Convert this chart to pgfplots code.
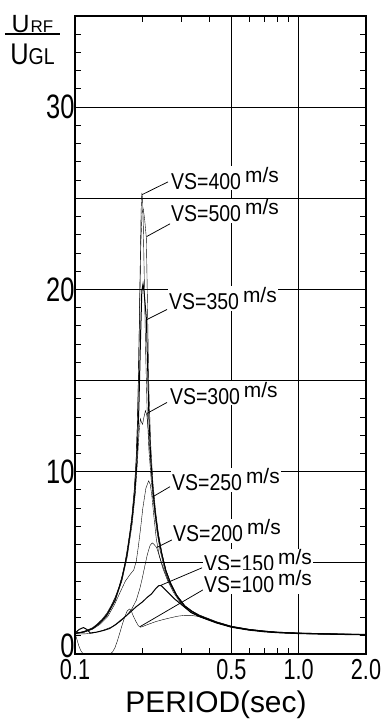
\documentclass[border=0pt]{standalone}
\usepackage{pgfplots}
\pgfplotsset{compat=1.18}
\usepackage{fontspec}
\setmainfont{Liberation Sans}
\newfontfamily\tickfont{Liberation Sans}[FakeStretch=0.75]
\newfontfamily\labfont{Liberation Sans}[FakeStretch=0.85]
\newcommand{\vs}[1]{{\labfont\fontsize{23}{23}\selectfont VS=#1}\hspace{4bp}\raisebox{7bp}{\fontsize{21}{21}\selectfont m/s}}
\begin{document}
\begin{tikzpicture}
\path[use as bounding box] (-75bp,-69bp) rectangle (312bp,654bp);
\begin{axis}[
 at={(0,0)}, anchor=south west,
 scale only axis, width=291bp, height=638bp,
 xmode=log, xmin=0.1, xmax=2, ymin=0, ymax=35,
 xtick={0.1,0.5,1,2}, xticklabels={0.1,0.5,1.0,2.0},
 minor xtick={0.2,0.3,0.4,0.6,0.7,0.8,0.9},
 ytick={0,10,20,30}, yticklabels={\raisebox{16bp}{0},10,20,30},
 minor ytick={1,...,34},
 extra y ticks={5,15,25}, extra y tick labels={},
 extra y tick style={grid=major},
 grid=major,
 major grid style={black, line width=0.8bp},
 axis line style={line width=1.3bp},
 tick style={black, line width=0.9bp},
 major tick length=7bp, minor tick length=6bp,
 x tick label style={font=\tickfont\fontsize{29}{29}\selectfont, yshift=-2bp},
 y tick label style={font=\tickfont\fontsize{34}{34}\selectfont, xshift=3bp},
 clip=false,
 cycle list={{black, solid, line width=1bp, no markers}},
]
% VS=500
\addplot coordinates {(0.100,1.15)(0.107,1.2)(0.113,1.3)(0.120,1.45)(0.125,1.62)(0.132,1.9)(0.139,2.25)(0.145,2.65)(0.151,3.1)(0.157,3.65)(0.162,4.25)(0.167,4.95)(0.171,5.7)(0.176,6.7)(0.180,7.7)(0.184,9.0)(0.188,10.8)(0.191,13.5)(0.194,18)(0.197,22.5)(0.1995,24.2)(0.202,24.4)(0.205,23.8)(0.2085,22.8)(0.211,19)(0.214,14.5)(0.218,11.5)(0.223,9.4)(0.229,7.9)(0.236,6.6)(0.245,5.5)(0.255,4.6)(0.268,3.9)(0.285,3.25)(0.310,2.65)(0.335,2.35)(0.36,2.14)(0.40,1.92)(0.43,1.77)(0.50,1.53)(0.60,1.36)(0.70,1.27)(0.80,1.21)(1.00,1.16)(1.30,1.12)(1.60,1.1)(2.00,1.08)};
% VS=400
\addplot coordinates {(0.100,1.15)(0.107,1.2)(0.113,1.28)(0.120,1.42)(0.125,1.58)(0.132,1.85)(0.139,2.2)(0.145,2.6)(0.151,3.05)(0.157,3.6)(0.162,4.2)(0.167,4.9)(0.171,5.6)(0.176,6.6)(0.180,7.6)(0.184,8.9)(0.187,10.2)(0.190,12.5)(0.193,16.5)(0.1955,21)(0.1975,24.3)(0.199,25.3)(0.2005,25.0)(0.202,23.5)(0.2045,20)(0.207,16.5)(0.210,13.5)(0.214,11.2)(0.219,9.6)(0.225,8.2)(0.232,6.8)(0.240,5.7)(0.250,4.8)(0.262,4.0)(0.275,3.5)(0.300,2.8)(0.330,2.36)(0.36,2.12)(0.40,1.9)(0.43,1.75)(0.50,1.52)(0.60,1.35)(0.70,1.26)(0.80,1.2)(1.00,1.15)(1.30,1.11)(1.60,1.09)(2.00,1.07)};
% VS=350
\addplot coordinates {(0.100,1.13)(0.110,1.22)(0.120,1.4)(0.130,1.75)(0.139,2.15)(0.151,2.95)(0.162,4.1)(0.171,5.45)(0.180,7.4)(0.185,8.8)(0.189,10.5)(0.193,13.5)(0.1965,17.5)(0.199,19.9)(0.2015,20.3)(0.2035,19.9)(0.2055,19.3)(0.2085,18.4)(0.211,16)(0.214,13)(0.218,10.8)(0.223,9.0)(0.229,7.6)(0.236,6.4)(0.245,5.4)(0.255,4.55)(0.268,3.85)(0.285,3.2)(0.310,2.62)(0.335,2.32)(0.36,2.1)(0.40,1.88)(0.43,1.74)(0.50,1.5)(0.60,1.34)(0.70,1.25)(0.80,1.19)(1.00,1.14)(1.30,1.11)(1.60,1.09)(2.00,1.07)};
% VS=300
\addplot coordinates {(0.100,1.12)(0.110,1.2)(0.120,1.38)(0.130,1.7)(0.139,2.1)(0.151,2.9)(0.162,4.0)(0.171,5.3)(0.180,7.1)(0.186,8.8)(0.190,10.5)(0.1935,12.2)(0.196,12.9)(0.1985,12.7)(0.2005,12.6)(0.203,12.95)(0.2065,13.35)(0.2095,13.1)(0.213,12.2)(0.217,10.8)(0.222,9.3)(0.228,7.9)(0.235,6.7)(0.244,5.6)(0.255,4.6)(0.268,3.85)(0.285,3.2)(0.310,2.6)(0.335,2.3)(0.36,2.08)(0.40,1.86)(0.43,1.72)(0.50,1.49)(0.60,1.33)(0.70,1.24)(0.80,1.18)(1.00,1.13)(1.30,1.1)(1.60,1.08)(2.00,1.06)};
% VS=250
\addplot coordinates {(0.100,1.12)(0.110,1.2)(0.120,1.36)(0.130,1.65)(0.140,2.05)(0.150,2.7)(0.160,3.45)(0.168,4.0)(0.176,4.35)(0.183,4.6)(0.188,5.1)(0.192,5.9)(0.1965,6.9)(0.201,8.0)(0.2075,9.1)(0.2135,9.5)(0.217,9.3)(0.2205,8.7)(0.225,7.6)(0.231,6.3)(0.238,5.4)(0.247,4.7)(0.260,4.0)(0.275,3.4)(0.300,2.7)(0.330,2.28)(0.36,2.06)(0.40,1.85)(0.43,1.71)(0.50,1.48)(0.60,1.32)(0.70,1.23)(0.80,1.18)(1.00,1.13)(1.30,1.1)(1.60,1.08)(2.00,1.06)};
% VS=200
\addplot coordinates {(0.100,1.1)(0.110,1.1)(0.120,1.15)(0.130,1.25)(0.140,1.4)(0.150,1.55)(0.160,1.8)(0.170,2.1)(0.180,2.5)(0.188,2.95)(0.195,3.6)(0.1995,4.1)(0.205,4.8)(0.211,5.5)(0.2165,5.95)(0.2215,6.1)(0.226,6.0)(0.2315,5.85)(0.238,5.4)(0.247,4.8)(0.260,4.1)(0.275,3.5)(0.300,2.75)(0.330,2.28)(0.36,2.05)(0.40,1.84)(0.43,1.7)(0.50,1.47)(0.60,1.31)(0.70,1.23)(0.80,1.17)(1.00,1.12)(1.30,1.09)(1.60,1.07)(2.00,1.06)};
% VS=150
\addplot coordinates {(0.100,1.15)(0.1045,1.35)(0.109,1.45)(0.113,1.35)(0.117,1.15)(0.125,1.2)(0.135,1.3)(0.143,1.4)(0.152,1.62)(0.164,1.95)(0.175,2.25)(0.188,2.6)(0.200,2.85)(0.210,3.1)(0.220,3.3)(0.230,3.6)(0.237,3.75)(0.243,3.75)(0.250,3.6)(0.262,3.35)(0.280,3.0)(0.300,2.7)(0.330,2.28)(0.36,2.05)(0.40,1.84)(0.43,1.7)(0.50,1.47)(0.60,1.31)(0.70,1.22)(0.80,1.17)(1.00,1.12)(1.30,1.09)(1.60,1.07)(2.00,1.05)};
% VS=100
\addplot coordinates {(0.100,1.15)(0.102,0.8)(0.104,0.45)(0.106,0.2)(0.108,0.05)(0.111,0.0)(0.143,0.0)(0.147,0.1)(0.151,0.35)(0.155,0.75)(0.159,1.2)(0.163,1.65)(0.167,2.05)(0.171,2.35)(0.175,2.47)(0.178,2.4)(0.182,2.1)(0.187,1.8)(0.192,1.55)(0.196,1.47)(0.200,1.5)(0.215,1.65)(0.230,1.78)(0.250,1.9)(0.270,2.0)(0.290,2.08)(0.310,2.12)(0.330,2.12)(0.36,2.05)(0.40,1.86)(0.43,1.72)(0.50,1.49)(0.60,1.33)(0.70,1.24)(0.80,1.18)(1.00,1.13)(1.30,1.1)(1.60,1.08)(2.00,1.06)};
% pointers
\draw[line width=0.75bp] (axis cs:0.2605,25.9) -- (axis cs:0.1995,25.2);
\draw[line width=0.75bp] (axis cs:0.266,23.6) -- (axis cs:0.209,22.9);
\draw[line width=0.75bp] (axis cs:0.2578,18.9) -- (axis cs:0.2099,18.35);
\draw[line width=0.75bp] (axis cs:0.2578,13.8) -- (axis cs:0.2099,13.2);
\draw[line width=0.75bp] (axis cs:0.266,9.18) -- (axis cs:0.221,8.6);
\draw[line width=0.75bp] (axis cs:0.2715,6.26) -- (axis cs:0.2325,5.85);
\draw[line width=0.75bp] (axis cs:0.370,4.73) -- (axis cs:0.24,3.75);
\draw[line width=0.75bp] (axis cs:0.3737,3.52) -- (axis cs:0.1953,1.5);
% labels
\tikzset{lab/.style={anchor=base west, fill=white, inner sep=1bp}}
\node[lab] at (axis cs:0.266,25.5) {\vs{400}};
\node[lab] at (axis cs:0.266,23.7) {\vs{500}};
\node[lab] at (axis cs:0.2605,18.9) {\vs{350}};
\node[lab] at (axis cs:0.263,13.7) {\vs{300}};
\node[lab] at (axis cs:0.2687,8.96) {\vs{250}};
\node[lab] at (axis cs:0.2715,6.15) {\vs{200}};
\node[lab] at (axis cs:0.3737,4.5) {\vs{150}};
\node[lab] at (axis cs:0.3737,3.35) {\vs{100}};
\end{axis}
% y label fraction
\node[anchor=base, inner sep=0pt] at (-42.5bp,621bp) {\fontsize{25}{25}\selectfont U\fontsize{17}{17}\selectfont\hspace{1bp}RF};
\draw[line width=1.2bp] (-70bp,620bp) -- (-15bp,620bp);
\node[anchor=base, inner sep=0pt] at (-42.5bp,589bp) {{\labfont\fontsize{30}{30}\selectfont U}{\labfont\fontsize{23}{23}\selectfont GL}};
% x label
\node[anchor=base, inner sep=0pt] at (141bp,-58bp) {\fontsize{30}{30}\selectfont PERIOD(sec)};
\end{tikzpicture}
\end{document}
